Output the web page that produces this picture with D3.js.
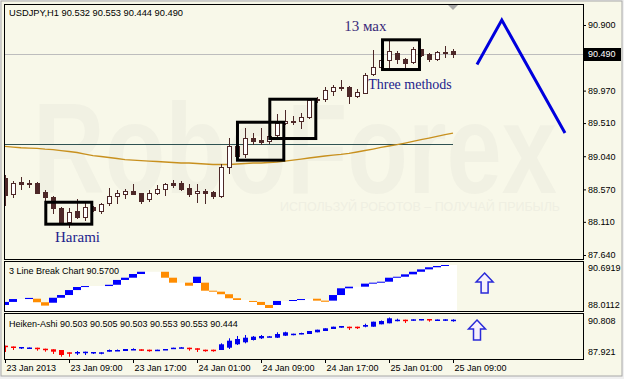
<!DOCTYPE html>
<html>
<head>
<meta charset="utf-8">
<script src="https://cdn.jsdelivr.net/npm/d3@7"></script>
<style>
  html, body { margin: 0; padding: 0; background: #f0f0f0; }
  svg { display: block; }
  text { font-family: "Liberation Sans", Arial, sans-serif; }
</style>
</head>
<body>
<svg id="chart" width="624" height="379"></svg>
<script>
// ---- data (USDJPY H1, bars from 23 Jan 2013 01:00) ----
const firstBar = Date.UTC(2013, 0, 23, 1);

const candleOpen = [88.73, 88.51, 88.68, 88.66, 88.66, 88.53, 88.46, 88.31, 88.11, 88.26,
  88.18, 88.32, 88.26, 88.38, 88.48, 88.51, 88.55, 88.52, 88.43, 88.52,
  88.58, 88.66, 88.66, 88.59, 88.52, 88.55, 88.53, 88.48, 88.89, 89.19,
  89.07, 89.30, 89.27, 89.25, 89.34, 89.51, 89.54, 89.54, 89.60, 89.85,
  89.85, 89.96, 90.02, 90.02, 89.89, 89.94, 90.21, 90.30, 90.40, 90.50,
  90.42, 90.38, 90.56, 90.49, 90.42, 90.52, 90.532];
const candleHigh = [88.77, 88.69, 88.75, 88.70, 88.67, 88.56, 88.48, 88.32, 88.31, 88.43,
  88.40, 88.33, 88.38, 88.59, 88.56, 88.58, 88.65, 88.52, 88.56, 88.63,
  88.66, 88.70, 88.69, 88.65, 88.65, 88.58, 88.55, 88.93, 89.30, 89.19,
  89.44, 89.37, 89.44, 89.37, 89.64, 89.70, 89.61, 89.65, 89.85, 89.88,
  90.02, 90.05, 90.12, 90.04, 89.99, 90.22, 90.55, 90.42, 90.67, 90.53,
  90.43, 90.59, 90.56, 90.50, 90.53, 90.60, 90.553];
const candleLow = [88.35, 88.46, 88.58, 88.60, 88.52, 88.42, 88.24, 88.10, 88.04, 88.16,
  88.14, 88.26, 88.24, 88.35, 88.38, 88.45, 88.50, 88.38, 88.41, 88.51,
  88.49, 88.60, 88.56, 88.48, 88.39, 88.38, 88.45, 88.46, 88.80, 89.04,
  89.03, 89.21, 89.21, 89.23, 89.31, 89.50, 89.50, 89.44, 89.58, 89.81,
  89.82, 89.91, 89.98, 89.79, 89.88, 89.94, 90.19, 90.29, 90.29, 90.36,
  90.26, 90.36, 90.46, 90.39, 90.40, 90.45, 90.444];
const candleClose = [88.49, 88.66, 88.65, 88.65, 88.52, 88.46, 88.31, 88.11, 88.25, 88.18,
  88.32, 88.28, 88.36, 88.48, 88.52, 88.55, 88.51, 88.41, 88.52, 88.58,
  88.65, 88.63, 88.58, 88.50, 88.55, 88.52, 88.48, 88.89, 89.19, 89.04,
  89.30, 89.26, 89.24, 89.33, 89.51, 89.54, 89.52, 89.60, 89.84, 89.84,
  89.98, 90.02, 90.01, 89.89, 89.95, 90.19, 90.30, 90.40, 90.53, 90.42,
  90.36, 90.56, 90.47, 90.42, 90.52, 90.50, 90.490];

// moving average drawn on the main chart
const movingAvg = [89.18, 89.17, 89.16, 89.156, 89.15, 89.14, 89.135, 89.12, 89.107, 89.093,
  89.071, 89.05, 89.036, 89.022, 89.008, 88.993, 88.986, 88.979, 88.972, 88.965,
  88.958, 88.951, 88.944, 88.944, 88.937, 88.93, 88.923, 88.923, 88.923, 88.93,
  88.937, 88.944, 88.944, 88.951, 88.958, 88.972, 88.986, 89.0, 89.015, 89.029,
  89.043, 89.057, 89.067, 89.081, 89.10, 89.121, 89.142, 89.164, 89.185, 89.203,
  89.227, 89.251, 89.274, 89.298, 89.322, 89.345, 89.369];

const priceTicks = [87.64, 88.11, 88.57, 89.04, 89.51, 89.97, 90.44, 90.90];
const bidPrice = 90.49;
const levelPrice = 89.213;

// 3 Line Break Chart (one slot per bar)
const lbOpen = [88.20, 88.39, 88.57, 88.57, 88.59, 88.37, 88.34, 88.65, 88.82, 89.13,
  89.32, 89.38, 89.38, 89.38, 89.46, 89.76, 89.90, 90.13, 90.27, 90.27,
  90.27, 89.90, 89.59, 89.59, 89.57, 89.59, 89.09, 89.03, 88.87, 88.62,
  88.51, 88.45, 88.39, 88.20, 88.20, 88.45, 88.45, 88.51, 88.57, 88.59,
  88.47, 88.47, 88.82, 89.24, 89.34, 89.34, 89.53, 89.59, 89.65, 89.90,
  89.96, 90.11, 90.27, 90.42, 90.55, 90.63, 90.6919];
const lbClose = [88.39, 88.57, 88.57, 88.64, 88.37, 88.16, 88.65, 88.82, 89.13, 89.32,
  89.38, 89.38, 89.38, 89.46, 89.76, 89.90, 90.13, 90.27, 90.27, 90.27,
  89.90, 89.59, 89.59, 89.40, 89.96, 89.09, 89.03, 88.87, 88.62, 88.51,
  88.51, 88.39, 88.20, 88.0112, 88.45, 88.45, 88.51, 88.57, 88.57, 88.47,
  88.40, 88.82, 89.24, 89.34, 89.34, 89.53, 89.59, 89.65, 89.90, 89.96,
  90.11, 90.27, 90.42, 90.55, 90.63, 90.6919, 90.6919];
const lbRange = [88.0112, 90.6919];

// Heiken-Ashi
const haOpen = [88.737, 88.679, 88.592, 88.571, 88.592, 88.520, 88.477, 88.426, 88.260, 88.231,
  88.260, 88.231, 88.210, 88.304, 88.376, 88.354, 88.448, 88.477, 88.448, 88.405,
  88.448, 88.498, 88.571, 88.592, 88.549, 88.448, 88.448, 88.426, 88.592, 88.838,
  88.982, 89.148, 89.271, 89.365, 89.314, 89.458, 89.559, 89.603, 89.581, 89.704,
  89.798, 89.942, 90.036, 90.108, 90.108, 90.108, 90.108, 90.281, 90.353, 90.570,
  90.613, 90.541, 90.613, 90.664, 90.592, 90.592, 90.570];
const haHigh = [88.737, 88.679, 88.643, 88.607, 88.592, 88.520, 88.477, 88.426, 88.260, 88.354,
  88.304, 88.282, 88.260, 88.462, 88.462, 88.498, 88.549, 88.477, 88.450, 88.448,
  88.498, 88.592, 88.643, 88.592, 88.549, 88.448, 88.448, 88.910, 89.271, 89.437,
  89.509, 89.437, 89.509, 89.437, 89.704, 89.747, 89.603, 89.675, 89.798, 89.892,
  89.993, 90.108, 90.159, 90.108, 90.108, 90.325, 90.469, 90.556, 90.772, 90.686,
  90.613, 90.642, 90.664, 90.664, 90.628, 90.642, 90.642];
const haLow = [88.282, 88.426, 88.498, 88.535, 88.376, 88.304, 88.138, 87.943, 87.943, 88.065,
  88.065, 88.138, 88.116, 88.304, 88.354, 88.354, 88.426, 88.354, 88.304, 88.390,
  88.426, 88.498, 88.571, 88.376, 88.282, 88.304, 88.304, 88.426, 88.498, 88.787,
  88.910, 89.112, 89.220, 89.365, 89.292, 89.437, 89.487, 89.559, 89.581, 89.704,
  89.798, 89.942, 90.036, 89.870, 89.942, 90.065, 90.108, 90.281, 90.353, 90.498,
  90.375, 90.541, 90.570, 90.469, 90.556, 90.519, 90.469];
const haClose = [88.643, 88.621, 88.643, 88.607, 88.549, 88.477, 88.304, 88.065, 88.210, 88.282,
  88.304, 88.282, 88.260, 88.426, 88.426, 88.498, 88.498, 88.426, 88.410, 88.448,
  88.498, 88.592, 88.621, 88.549, 88.498, 88.405, 88.405, 88.838, 89.098, 89.220,
  89.314, 89.386, 89.437, 89.415, 89.581, 89.704, 89.603, 89.653, 89.798, 89.892,
  89.993, 90.108, 90.159, 90.065, 90.065, 90.231, 90.469, 90.519, 90.714, 90.613,
  90.570, 90.642, 90.664, 90.613, 90.628, 90.642, 90.613];
const haRange = [87.921, 90.808];

// pattern boxes (hours from first bar, prices)
const boxFrom = [5.1, 29.06, 33.1, 47.19];
const boxTo = [10.85, 34.85, 38.85, 51.81];
const boxTop = [88.388, 89.522, 89.848, 90.690];
const boxBottom = [88.077, 88.984, 89.291, 90.269];

// text notes
const noteText = ['Harami', '13 мах', 'Three methods'];
const noteHour = [6.25, 42.4, 45.4];
const notePrice = [87.83, 90.814, 89.988];
const noteColor = ['#23238c', '#3a2a7a', '#23238c'];

// forecast zigzag
const forecastHour = [59, 62.1, 70];
const forecastPrice = [90.34, 90.97, 89.369];

// arrows in the indicator windows
const lbArrow = { hour: 59.95, value: 90.19 };
const haArrow = { hour: 59, value: 90.59 };

// ---- layout ----
const frame = { left: 4, right: 583, mainTop: 4, mainBottom: 259, lbTop: 261, lbBottom: 311, haTop: 313, haBottom: 359 };
const candleDark = '#4d2828';
const ivory = '#f8f8e9';

const svg = d3.select('#chart');
const times = candleOpen.map((_, i) => new Date(firstBar + i * 3600e3));
const atHour = h => new Date(firstBar + h * 3600e3);

const x = d3.scaleUtc().domain([times[0], times[times.length - 1]]).range([5, 453]);
const y = d3.scaleLinear().domain([87.64, 90.90]).range([255, 25]);
const yLB = d3.scaleLinear().domain(lbRange).range([308, 265]);
const yHA = d3.scaleLinear().domain(haRange).range([357, 317]);
const cx = t => Math.round(x(t));

// background
svg.append('rect').attr('x', 1).attr('y', 1).attr('width', 621).attr('height', 375)
  .attr('fill', ivory).attr('stroke', '#a8a8a8');

const defs = svg.append('defs');
defs.append('clipPath').attr('id', 'clipMain').append('rect')
  .attr('x', frame.left + 1).attr('y', frame.mainTop + 1)
  .attr('width', frame.right - frame.left - 1).attr('height', frame.mainBottom - frame.mainTop - 1);
defs.append('clipPath').attr('id', 'clipLB').append('rect')
  .attr('x', frame.left + 1).attr('y', frame.lbTop + 1)
  .attr('width', frame.right - frame.left - 1).attr('height', frame.lbBottom - frame.lbTop - 1);
defs.append('clipPath').attr('id', 'clipHA').append('rect')
  .attr('x', frame.left + 1).attr('y', frame.haTop + 1)
  .attr('width', frame.right - frame.left - 1).attr('height', frame.haBottom - frame.haTop - 1);

// ---- main window ----
const main = svg.append('g').attr('clip-path', 'url(#clipMain)');

// watermark (very faint)
main.append('text').attr('x', 33).attr('y', 193)
  .attr('font-size', 128).attr('font-weight', 'bold')
  .attr('textLength', 524).attr('lengthAdjust', 'spacingAndGlyphs')
  .attr('fill', '#f1f1e3').text('RoboForex');
main.append('text').attr('x', 280).attr('y', 211)
  .attr('font-size', 13).attr('textLength', 280).attr('lengthAdjust', 'spacingAndGlyphs')
  .attr('fill', '#efefe2').text('ИСПОЛЬЗУЙ РОБОТОВ – ПОЛУЧАЙ ПРИБЫЛЬ');

// bid line
main.append('line')
  .attr('x1', frame.left).attr('x2', frame.right)
  .attr('y1', Math.round(y(bidPrice)) + 0.5).attr('y2', Math.round(y(bidPrice)) + 0.5)
  .attr('stroke', '#bdbdbd');

// horizontal level
main.append('line')
  .attr('x1', frame.left).attr('x2', x(times[times.length - 1]))
  .attr('y1', Math.round(y(levelPrice)) + 0.5).attr('y2', Math.round(y(levelPrice)) + 0.5)
  .attr('stroke', '#2f5252');

// moving average
main.append('path')
  .datum(movingAvg.map((v, i) => [times[i], v]))
  .attr('fill', 'none').attr('stroke', '#c8901e').attr('stroke-width', 1.3)
  .attr('d', d3.line().x(d => x(d[0])).y(d => y(d[1])));

// candles
const candles = times.map((t, i) => ({ t, o: candleOpen[i], h: candleHigh[i], l: candleLow[i], c: candleClose[i] }));
const candleG = main.append('g');
candleG.selectAll('line').data(candles).join('line')
  .attr('x1', d => cx(d.t) + 0.5).attr('x2', d => cx(d.t) + 0.5)
  .attr('y1', d => Math.round(y(d.h))).attr('y2', d => Math.round(y(d.l)) + 1)
  .attr('stroke', candleDark);
candleG.selectAll('rect').data(candles).join('rect')
  .attr('x', d => cx(d.t) - 1.5).attr('width', 4)
  .attr('y', d => Math.round(y(Math.max(d.o, d.c))) + 0.5)
  .attr('height', d => Math.max(1, Math.round(y(Math.min(d.o, d.c))) - Math.round(y(Math.max(d.o, d.c)))))
  .attr('fill', d => d.c >= d.o ? '#ffffff' : candleDark)
  .attr('stroke', candleDark);

// pattern boxes
main.append('g').selectAll('rect').data(boxFrom).join('rect')
  .attr('x', (d, i) => x(atHour(boxFrom[i])))
  .attr('y', (d, i) => y(boxTop[i]))
  .attr('width', (d, i) => x(atHour(boxTo[i])) - x(atHour(boxFrom[i])))
  .attr('height', (d, i) => y(boxBottom[i]) - y(boxTop[i]))
  .attr('fill', 'none').attr('stroke', '#000').attr('stroke-width', 3);

// notes
main.append('g').selectAll('text').data(noteText).join('text')
  .attr('x', (d, i) => x(atHour(noteHour[i])))
  .attr('y', (d, i) => y(notePrice[i]))
  .attr('fill', (d, i) => noteColor[i])
  .style('font-family', '"Liberation Serif", "Times New Roman", serif')
  .attr('font-size', (d, i) => i === 2 ? 14 : 15)
  .text(d => d);

// forecast
main.append('path')
  .datum(forecastHour.map((h, i) => [atHour(h), forecastPrice[i]]))
  .attr('fill', 'none').attr('stroke', '#0000dd').attr('stroke-width', 3)
  .attr('d', d3.line().x(d => x(d[0])).y(d => y(d[1])));

// shift marker
const shiftX = x(times[times.length - 1]);
svg.append('path')
  .attr('d', `M${shiftX - 5},${frame.mainTop + 1} L${shiftX + 5},${frame.mainTop + 1} L${shiftX},${frame.mainTop + 6} Z`)
  .attr('fill', '#a8a8a8');

// title
svg.append('text').attr('x', 9).attr('y', 16).attr('font-size', 9.3).attr('fill', '#000')
  .text('USDJPY,H1  90.532 90.553 90.444 90.490');

// ---- 3 Line Break window ----
const lbG = svg.append('g').attr('clip-path', 'url(#clipLB)');
const lb = times.map((t, i) => ({ t, o: lbOpen[i], c: lbClose[i] }));
lbG.selectAll('rect.fill').data(lb).join('rect').attr('class', 'fill')
  .attr('x', d => cx(d.t) - 4).attr('width', 8)
  .attr('y', d => yLB(Math.min(d.o, d.c)))
  .attr('height', d => frame.lbBottom - yLB(Math.min(d.o, d.c)))
  .attr('fill', '#ffffff');
lbG.selectAll('rect.brick').data(lb.filter(d => d.o !== d.c)).join('rect').attr('class', 'brick')
  .attr('x', d => cx(d.t) - 4).attr('width', 8)
  .attr('y', d => yLB(Math.max(d.o, d.c)))
  .attr('height', d => Math.max(1, yLB(Math.min(d.o, d.c)) - yLB(Math.max(d.o, d.c))))
  .attr('fill', d => d.c > d.o ? '#0000ff' : '#ff8c00');

svg.append('text').attr('x', 9).attr('y', 274).attr('font-size', 9).text('3 Line Break Chart 90.5700');

// ---- Heiken-Ashi window ----
const haG = svg.append('g').attr('clip-path', 'url(#clipHA)');
const ha = times.map((t, i) => ({ t, o: haOpen[i], h: haHigh[i], l: haLow[i], c: haClose[i] }));
const haColor = d => d.c >= d.o ? '#0000ee' : '#ff0000';
haG.selectAll('line').data(ha).join('line')
  .attr('x1', d => cx(d.t) + 0.5).attr('x2', d => cx(d.t) + 0.5)
  .attr('y1', d => yHA(d.h)).attr('y2', d => yHA(d.l))
  .attr('stroke', haColor);
haG.selectAll('rect').data(ha).join('rect')
  .attr('x', d => cx(d.t) - 2).attr('width', 5)
  .attr('y', d => yHA(Math.max(d.o, d.c)))
  .attr('height', d => Math.max(1.5, yHA(Math.min(d.o, d.c)) - yHA(Math.max(d.o, d.c))))
  .attr('fill', haColor);

svg.append('text').attr('x', 9).attr('y', 327).attr('font-size', 9)
  .text('Heiken-Ashi 90.503 90.505 90.503 90.553 90.553 90.444');

// hollow arrows
const arrowPath = 'M0,0 L8.5,9 L3.5,9 L3.5,20 L-3.5,20 L-3.5,9 L-8.5,9 Z';
[[lbArrow, yLB], [haArrow, yHA]].forEach(([a, sc]) => {
  svg.append('path')
    .attr('transform', `translate(${x(atHour(a.hour))},${sc(a.value)})`)
    .attr('d', arrowPath)
    .attr('fill', '#f6f0fb').attr('stroke', '#2a2ad8').attr('stroke-width', 1.5)
    .attr('stroke-linejoin', 'miter');
});

// ---- frames ----
const borders = svg.append('g').attr('fill', 'none').attr('stroke', '#000');
[[frame.mainTop, frame.mainBottom], [frame.lbTop, frame.lbBottom], [frame.haTop, frame.haBottom]].forEach(([t, b]) => {
  borders.append('rect').attr('x', frame.left + 0.5).attr('y', t + 0.5)
    .attr('width', frame.right - frame.left).attr('height', b - t);
});

// ---- axes ----
const yAxis = d3.axisRight(y).tickValues(priceTicks).tickSize(3).tickPadding(2)
  .tickFormat(d3.format('.3f'));
const yAxisG = svg.append('g').attr('transform', `translate(${frame.right},0)`).call(yAxis);
yAxisG.select('.domain').remove();
yAxisG.selectAll('text').attr('font-size', 9).attr('fill', '#000').style('font-family', '"Liberation Sans", Arial, sans-serif');

// current price box
const bidY = y(bidPrice);
svg.append('rect').attr('x', frame.right + 1).attr('y', Math.round(bidY) - 6)
  .attr('width', 37).attr('height', 13).attr('fill', '#000');
svg.append('text').attr('x', frame.right + 5).attr('y', bidY).attr('dy', '0.34em')
  .attr('font-size', 9).attr('fill', '#fff').text(d3.format('.3f')(bidPrice));

// indicator scale labels
const sideLabels = [
  [d3.format('.4f')(lbRange[1]), yLB(lbRange[1]) + 3],
  [d3.format('.4f')(lbRange[0]), yLB(lbRange[0]) - 3],
  [d3.format('.3f')(haRange[1]), yHA(haRange[1]) + 4],
  [d3.format('.3f')(haRange[0]), yHA(haRange[0]) - 5]
];
svg.append('g').selectAll('text').data(sideLabels).join('text')
  .attr('x', frame.right + 5).attr('y', d => d[1]).attr('dy', '0.34em')
  .attr('font-size', 9).attr('fill', '#000').text(d => d[0]);

// time axis
const timeTicks = d3.range(0, times.length, 8).map(i => times[i]);
const fmtDay = d3.utcFormat('%d %b %Y');
const fmtHour = d3.utcFormat('%d %b %H:%M');
const xAxis = d3.axisBottom(x).tickValues(timeTicks).tickSize(4).tickPadding(2)
  .tickFormat((d, i) => i === 0 ? fmtDay(d) : fmtHour(d));
const xAxisG = svg.append('g').attr('transform', `translate(0,${frame.haBottom})`).call(xAxis);
xAxisG.select('.domain').remove();
xAxisG.selectAll('text').attr('text-anchor', 'start').attr('dx', 1)
  .attr('font-size', 9).attr('fill', '#000').style('font-family', '"Liberation Sans", Arial, sans-serif');
</script>
</body>
</html>
